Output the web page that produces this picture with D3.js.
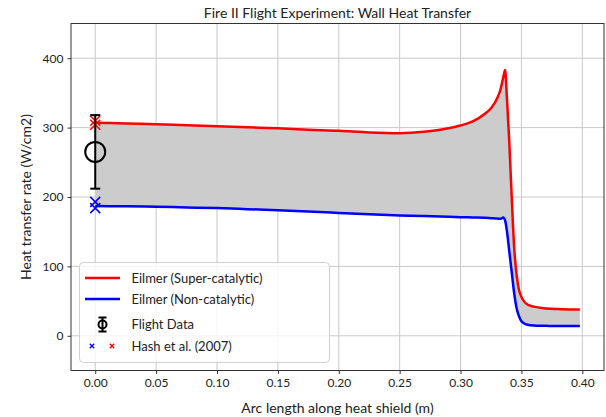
<!DOCTYPE html>
<html>
<head>
<meta charset="utf-8">
<script src="https://cdn.jsdelivr.net/npm/d3@7"></script>
<style>
  body { margin: 0; background: #fff; }
  text { font-family: Lato, "DejaVu Sans", sans-serif; fill: #222; }
</style>
</head>
<body>
<script>
// arc length samples (m)
const arcLength = [0, 0.025, 0.05, 0.075, 0.10, 0.125, 0.15, 0.175, 0.20, 0.225, 0.25, 0.27, 0.29,
  0.30, 0.31, 0.32, 0.325, 0.33, 0.333, 0.335, 0.3366, 0.338, 0.34, 0.342, 0.344, 0.346, 0.348,
  0.35, 0.352, 0.355, 0.36, 0.37, 0.38, 0.39, 0.398];
// Eilmer super-catalytic (W/cm2)
const superCat = [307, 306, 305, 303.5, 302, 300.5, 299, 297, 295.5, 293, 292, 294, 299,
  303, 309, 320, 328, 342, 356, 372, 383, 345, 280, 200, 128, 88, 66,
  56, 50, 45, 42, 39.5, 38.5, 38, 38];
// Eilmer non-catalytic (W/cm2)
const nonCat = [187, 186.5, 186, 185, 184, 182.5, 181, 179, 177, 175, 173.5, 172.5, 171.5,
  171, 170.5, 170, 169.5, 169, 168.5, 170.5, 166, 152, 122, 92, 62, 40, 28,
  21, 18, 16, 15, 14.5, 14, 14, 14];

const flight = { x: 0, y: 265, err: 53 };
const hashNonCat = [184, 193];
const hashSuperCat = [304, 310];

const xTicks = [0, 0.05, 0.10, 0.15, 0.20, 0.25, 0.30, 0.35, 0.40];
const yTicks = [0, 100, 200, 300, 400];

const W = 606, H = 417;
const m = { left: 71, right: 2, top: 23.5, bottom: 46.5 };

const svg = d3.select("body").append("svg").attr("width", W).attr("height", H);

const x = d3.scaleLinear().domain([-0.0199, 0.4178]).range([m.left, W - m.right]);
const y = d3.scaleLinear().domain([-50, 450]).range([H - m.bottom, m.top]);

// grid
svg.append("g").selectAll("line").data(xTicks).enter().append("line")
  .attr("x1", d => x(d)).attr("x2", d => x(d))
  .attr("y1", m.top).attr("y2", H - m.bottom)
  .attr("stroke", "#c8c8c8").attr("stroke-width", 1);
svg.append("g").selectAll("line").data(yTicks).enter().append("line")
  .attr("y1", d => y(d)).attr("y2", d => y(d))
  .attr("x1", m.left).attr("x2", W - m.right)
  .attr("stroke", "#c8c8c8").attr("stroke-width", 1);

const rows = arcLength.map((a, i) => ({ a: a, hi: superCat[i], lo: nonCat[i] }));

// shaded band
svg.append("path").datum(rows)
  .attr("fill", "#cccccc")
  .attr("d", d3.area().curve(d3.curveMonotoneX)
    .x(d => x(d.a)).y0(d => y(d.lo)).y1(d => y(d.hi)));

const line = key => d3.line().curve(d3.curveMonotoneX).x(d => x(d.a)).y(d => y(d[key]));
svg.append("path").datum(rows).attr("fill", "none").attr("stroke", "#ff0000")
  .attr("stroke-width", 2.5).attr("d", line("hi"));
svg.append("path").datum(rows).attr("fill", "none").attr("stroke", "#0000ff")
  .attr("stroke-width", 2.5).attr("d", line("lo"));

// x markers
const cross = (g, cx, cy, s, color, sw) => {
  g.append("path")
    .attr("d", `M${cx - s},${cy - s}L${cx + s},${cy + s}M${cx - s},${cy + s}L${cx + s},${cy - s}`)
    .attr("stroke", color).attr("stroke-width", sw).attr("fill", "none");
};
const marks = svg.append("g");
hashNonCat.forEach(v => cross(marks, x(0), y(v), 5, "#0000ff", 1.5));
hashSuperCat.forEach(v => cross(marks, x(0), y(v), 5, "#ff0000", 1.5));

// flight data errorbar
const eb = svg.append("g").attr("stroke", "#000").attr("stroke-width", 2).attr("fill", "none");
eb.append("line").attr("x1", x(flight.x)).attr("x2", x(flight.x))
  .attr("y1", y(flight.y - flight.err)).attr("y2", y(flight.y + flight.err));
[flight.y - flight.err, flight.y + flight.err].forEach(v =>
  eb.append("line").attr("x1", x(flight.x) - 5).attr("x2", x(flight.x) + 5)
    .attr("y1", y(v)).attr("y2", y(v)));
eb.append("circle").attr("cx", x(flight.x)).attr("cy", y(flight.y)).attr("r", 10);

// axes frame
svg.append("rect").attr("x", m.left).attr("y", m.top)
  .attr("width", W - m.right - m.left).attr("height", H - m.bottom - m.top)
  .attr("fill", "none").attr("stroke", "#333").attr("stroke-width", 1);

// ticks
const xAxis = svg.append("g").attr("transform", `translate(0,${H - m.bottom})`)
  .call(d3.axisBottom(x).tickValues(xTicks).tickFormat(d3.format(".2f")).tickSizeOuter(0).tickSize(3.5).tickPadding(4));
const yAxis = svg.append("g").attr("transform", `translate(${m.left},0)`)
  .call(d3.axisLeft(y).tickValues(yTicks).tickSizeOuter(0).tickSize(3.5).tickPadding(4));
[xAxis, yAxis].forEach(a => {
  a.select(".domain").remove();
  a.selectAll("text").style("font-family", "Lato, sans-serif").style("font-size", "12px").attr("fill", "#222");
  a.selectAll("line").attr("stroke", "#333");
});

// labels
svg.append("text").attr("x", (m.left + W - m.right) / 2).attr("y", 18)
  .attr("text-anchor", "middle").style("font-size", "14px")
  .text("Fire II Flight Experiment: Wall Heat Transfer");
svg.append("text").attr("x", (m.left + W - m.right) / 2).attr("y", 413)
  .attr("text-anchor", "middle").style("font-size", "14px")
  .text("Arc length along heat shield (m)");
svg.append("text").attr("transform", `translate(31,${(m.top + H - m.bottom) / 2}) rotate(-90)`)
  .attr("text-anchor", "middle").style("font-size", "14px")
  .text("Heat transfer rate (W/cm2)");

// legend
const lg = svg.append("g");
lg.append("rect").attr("x", 79.5).attr("y", 262.5).attr("width", 250).attr("height", 100)
  .attr("rx", 4).attr("fill", "#fff").attr("fill-opacity", 0.8)
  .attr("stroke", "#d0d0d0").attr("stroke-width", 1);
const rowY = [278, 299, 324.5, 346];
const labels = ["Eilmer (Super-catalytic)", "Eilmer (Non-catalytic)", "Flight Data", "Hash et al. (2007)"];
lg.append("line").attr("x1", 85).attr("x2", 120).attr("y1", rowY[0]).attr("y2", rowY[0])
  .attr("stroke", "#ff0000").attr("stroke-width", 2.5);
lg.append("line").attr("x1", 85).attr("x2", 120).attr("y1", rowY[1]).attr("y2", rowY[1])
  .attr("stroke", "#0000ff").attr("stroke-width", 2.5);
const leb = lg.append("g").attr("stroke", "#000").attr("stroke-width", 2).attr("fill", "none");
leb.append("line").attr("x1", 102.5).attr("x2", 102.5).attr("y1", rowY[2] - 7).attr("y2", rowY[2] + 7);
leb.append("line").attr("x1", 98.5).attr("x2", 106.5).attr("y1", rowY[2] - 7).attr("y2", rowY[2] - 7);
leb.append("line").attr("x1", 98.5).attr("x2", 106.5).attr("y1", rowY[2] + 7).attr("y2", rowY[2] + 7);
leb.append("circle").attr("cx", 102.5).attr("cy", rowY[2]).attr("r", 4);
cross(lg, 92, rowY[3], 2.2, "#0000ff", 1.3);
cross(lg, 112, rowY[3], 2.2, "#ff0000", 1.3);
lg.selectAll("text.lab").data(labels).enter().append("text").attr("class", "lab")
  .attr("x", 131.5).attr("y", (d, i) => rowY[i]).attr("dy", "0.35em")
  .style("font-size", "13px").text(d => d);
</script>
</body>
</html>
